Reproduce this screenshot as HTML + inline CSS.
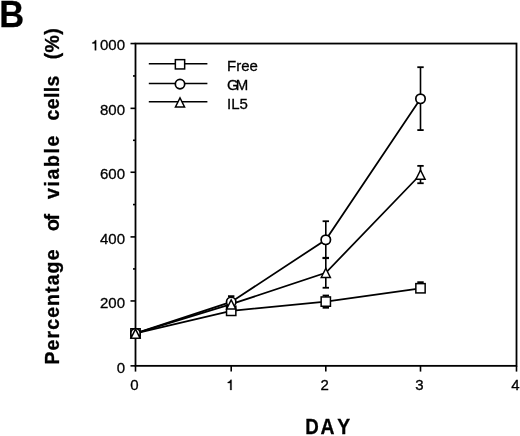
<!DOCTYPE html>
<html><head><meta charset="utf-8"><style>
html,body{margin:0;padding:0;background:#fff;}
body{width:520px;height:436px;overflow:hidden;position:relative;font-family:"Liberation Sans",sans-serif;}
svg{position:absolute;left:0;top:0;filter:grayscale(1);}
.t{font-family:"Liberation Sans",sans-serif;font-size:15px;fill:#000;stroke:#000;stroke-width:0.3px;}
.b{font-family:"Liberation Sans",sans-serif;font-weight:bold;fill:#000;stroke:#000;stroke-width:0.3px;}
</style></head><body>
<svg width="520" height="436" viewBox="0 0 520 436">
<text transform="translate(-0.8,27.2) scale(0.92,1)" class="b" style="font-size:37.5px">B</text>
<text transform="translate(59.2,364.5) rotate(-90)" class="b" style="font-size:19.5px"><tspan x="0.0" textLength="115.0" lengthAdjust="spacing">Percentage</tspan><tspan x="133.5" textLength="17.0" lengthAdjust="spacing">of</tspan><tspan x="165.6" textLength="63.3" lengthAdjust="spacing">viable</tspan><tspan x="243.9" textLength="45.0" lengthAdjust="spacing">cells</tspan><tspan x="305.3" textLength="30.9" lengthAdjust="spacing">(%)</tspan></text>
<text transform="translate(305.3,434) scale(0.87,1)" class="b" style="font-size:21.5px">D</text><text transform="translate(320.6,434) scale(0.9,1)" class="b" style="font-size:21.5px">A</text><text transform="translate(337.3,434) scale(0.9,1)" class="b" style="font-size:21.5px">Y</text>
<rect x="135.5" y="43.55" width="381" height="322.3" fill="none" stroke="#000" stroke-width="1.8"/>
<line x1="130.5" y1="365.85" x2="135.5" y2="365.85" stroke="#000" stroke-width="1.6"/>
<text x="125" y="372.65" text-anchor="end" class="t">0</text>
<line x1="133.0" y1="333.40" x2="135.5" y2="333.40" stroke="#000" stroke-width="1.6"/>
<line x1="130.5" y1="300.95" x2="135.5" y2="300.95" stroke="#000" stroke-width="1.6"/>
<text x="125" y="307.75" text-anchor="end" class="t">200</text>
<line x1="133.0" y1="268.93" x2="135.5" y2="268.93" stroke="#000" stroke-width="1.6"/>
<line x1="130.5" y1="236.90" x2="135.5" y2="236.90" stroke="#000" stroke-width="1.6"/>
<text x="125" y="243.70" text-anchor="end" class="t">400</text>
<line x1="133.0" y1="204.57" x2="135.5" y2="204.57" stroke="#000" stroke-width="1.6"/>
<line x1="130.5" y1="172.25" x2="135.5" y2="172.25" stroke="#000" stroke-width="1.6"/>
<text x="125" y="179.05" text-anchor="end" class="t">600</text>
<line x1="133.0" y1="140.30" x2="135.5" y2="140.30" stroke="#000" stroke-width="1.6"/>
<line x1="130.5" y1="108.35" x2="135.5" y2="108.35" stroke="#000" stroke-width="1.6"/>
<text x="125" y="115.15" text-anchor="end" class="t">800</text>
<line x1="133.0" y1="75.95" x2="135.5" y2="75.95" stroke="#000" stroke-width="1.6"/>
<line x1="130.5" y1="43.55" x2="135.5" y2="43.55" stroke="#000" stroke-width="1.6"/>
<text x="125" y="50.35" text-anchor="end" class="t">000</text>
<path class="t" d="M96.18,50.35 L96.18,40.15 L95.15,40.15 C94.80,41.25 93.80,42.25 92.30,42.60 L92.30,43.40 L94.82,43.40 L94.82,50.35 Z"/>
<line x1="135.50" y1="365.85" x2="135.50" y2="371.6" stroke="#000" stroke-width="1.6"/>
<text x="134.40" y="390" text-anchor="middle" class="t">0</text>
<line x1="231.20" y1="365.85" x2="231.20" y2="371.6" stroke="#000" stroke-width="1.6"/>
<path class="t" d="M231.58,390.00 L231.58,379.80 L230.55,379.80 C230.20,380.90 229.20,381.90 227.70,382.25 L227.70,383.05 L230.22,383.05 L230.22,390.00 Z"/>
<line x1="325.80" y1="365.85" x2="325.80" y2="371.6" stroke="#000" stroke-width="1.6"/>
<text x="324.70" y="390" text-anchor="middle" class="t">2</text>
<line x1="420.50" y1="365.85" x2="420.50" y2="371.6" stroke="#000" stroke-width="1.6"/>
<text x="419.40" y="390" text-anchor="middle" class="t">3</text>
<line x1="516.50" y1="365.85" x2="516.50" y2="371.6" stroke="#000" stroke-width="1.6"/>
<text x="515.40" y="390" text-anchor="middle" class="t">4</text>
<polyline points="135.50,333.40 231.20,310.85 325.80,301.60 420.50,288.27" fill="none" stroke="#000" stroke-width="1.75"/><line x1="325.80" y1="295.51" x2="325.80" y2="307.76" stroke="#000" stroke-width="1.6"/><line x1="322.60" y1="295.51" x2="329.00" y2="295.51" stroke="#000" stroke-width="1.8"/><line x1="322.60" y1="307.76" x2="329.00" y2="307.76" stroke="#000" stroke-width="1.8"/><line x1="420.50" y1="282.18" x2="420.50" y2="288.27" stroke="#000" stroke-width="1.6"/><line x1="417.30" y1="282.18" x2="423.70" y2="282.18" stroke="#000" stroke-width="1.8"/>
<polyline points="135.50,333.40 231.20,301.92 325.80,239.78 420.50,98.79" fill="none" stroke="#000" stroke-width="1.75"/><line x1="231.20" y1="296.15" x2="231.20" y2="307.76" stroke="#000" stroke-width="1.6"/><line x1="228.00" y1="296.15" x2="234.40" y2="296.15" stroke="#000" stroke-width="1.8"/><line x1="228.00" y1="307.76" x2="234.40" y2="307.76" stroke="#000" stroke-width="1.8"/><line x1="325.80" y1="221.22" x2="325.80" y2="258.20" stroke="#000" stroke-width="1.6"/><line x1="322.60" y1="221.22" x2="329.00" y2="221.22" stroke="#000" stroke-width="1.8"/><line x1="322.60" y1="258.20" x2="329.00" y2="258.20" stroke="#000" stroke-width="1.8"/><line x1="420.50" y1="67.20" x2="420.50" y2="130.08" stroke="#000" stroke-width="1.6"/><line x1="417.30" y1="67.20" x2="423.70" y2="67.20" stroke="#000" stroke-width="1.8"/><line x1="417.30" y1="130.08" x2="423.70" y2="130.08" stroke="#000" stroke-width="1.8"/>
<polyline points="135.50,333.40 231.20,304.19 325.80,272.77 420.50,174.51" fill="none" stroke="#000" stroke-width="1.75"/><line x1="231.20" y1="300.95" x2="231.20" y2="307.44" stroke="#000" stroke-width="1.6"/><line x1="228.00" y1="300.95" x2="234.40" y2="300.95" stroke="#000" stroke-width="1.8"/><line x1="228.00" y1="307.44" x2="234.40" y2="307.44" stroke="#000" stroke-width="1.8"/><line x1="325.80" y1="257.78" x2="325.80" y2="287.76" stroke="#000" stroke-width="1.6"/><line x1="322.60" y1="257.78" x2="329.00" y2="257.78" stroke="#000" stroke-width="1.8"/><line x1="322.60" y1="287.76" x2="329.00" y2="287.76" stroke="#000" stroke-width="1.8"/><line x1="420.50" y1="165.86" x2="420.50" y2="183.24" stroke="#000" stroke-width="1.6"/><line x1="417.30" y1="165.86" x2="423.70" y2="165.86" stroke="#000" stroke-width="1.8"/><line x1="417.30" y1="183.24" x2="423.70" y2="183.24" stroke="#000" stroke-width="1.8"/>
<rect x="130.85" y="328.75" width="9.3" height="9.3" fill="#fff" stroke="#000" stroke-width="1.5"/>
<rect x="226.55" y="306.20" width="9.3" height="9.3" fill="#fff" stroke="#000" stroke-width="1.5"/>
<rect x="321.15" y="296.95" width="9.3" height="9.3" fill="#fff" stroke="#000" stroke-width="1.5"/>
<rect x="415.85" y="283.62" width="9.3" height="9.3" fill="#fff" stroke="#000" stroke-width="1.5"/>
<circle cx="135.50" cy="333.40" r="4.7" fill="#fff" stroke="#000" stroke-width="1.7"/>
<circle cx="231.20" cy="301.92" r="4.7" fill="#fff" stroke="#000" stroke-width="1.7"/>
<circle cx="325.80" cy="239.78" r="4.7" fill="#fff" stroke="#000" stroke-width="1.7"/>
<circle cx="420.50" cy="98.79" r="4.7" fill="#fff" stroke="#000" stroke-width="1.7"/>
<path d="M135.50,327.40 L141.25,338.85 L129.75,338.85 Z" fill="#000"/><path d="M135.50,330.63 L138.90,337.40 L132.10,337.40 Z" fill="#fff"/>
<path d="M231.20,298.19 L236.95,309.64 L225.45,309.64 Z" fill="#000"/><path d="M231.20,301.43 L234.60,308.19 L227.80,308.19 Z" fill="#fff"/>
<path d="M325.80,266.77 L331.55,278.22 L320.05,278.22 Z" fill="#000"/><path d="M325.80,270.00 L329.20,276.77 L322.40,276.77 Z" fill="#fff"/>
<path d="M420.50,168.51 L426.25,179.96 L414.75,179.96 Z" fill="#000"/><path d="M420.50,171.74 L423.90,178.51 L417.10,178.51 Z" fill="#fff"/>
<line x1="148.8" y1="63.699999999999996" x2="207.4" y2="63.699999999999996" stroke="#000" stroke-width="1.6"/>
<rect x="175.35" y="59.65" width="9.3" height="9.3" fill="#fff" stroke="#000" stroke-width="1.5"/>
<text x="227" y="70.9" class="t">Free</text>
<line x1="148.8" y1="83.5" x2="207.4" y2="83.5" stroke="#000" stroke-width="1.6"/>
<circle cx="180.00" cy="84.10" r="4.7" fill="#fff" stroke="#000" stroke-width="1.7"/>
<text x="227" y="90.1" class="t">G<tspan dx="-2.8">M</tspan></text>
<line x1="148.8" y1="101.7" x2="207.4" y2="101.7" stroke="#000" stroke-width="1.6"/>
<path d="M180.00,96.30 L185.75,107.75 L174.25,107.75 Z" fill="#000"/><path d="M180.00,99.53 L183.40,106.30 L176.60,106.30 Z" fill="#fff"/>
<text x="227" y="108.9" class="t">IL5</text>
</svg>
</body></html>
